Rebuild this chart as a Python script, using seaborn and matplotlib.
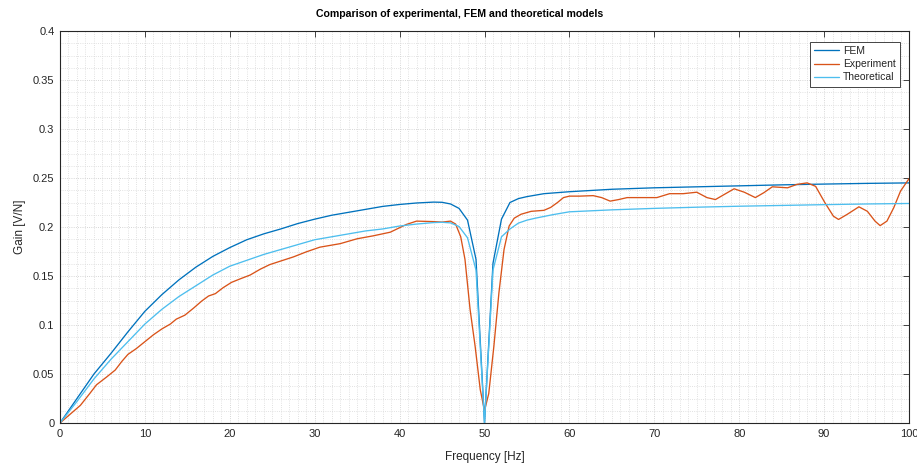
import numpy as np
import pandas as pd
import matplotlib
matplotlib.use("Agg")
import matplotlib.pyplot as plt
from matplotlib.ticker import MultipleLocator
import seaborn as sns

# FEM model response
fem_freq = [0, 2, 4, 6, 8, 10, 12, 14, 16, 18, 20, 22, 24, 26, 28, 30, 32, 34, 36, 38,
            40, 42, 44, 45, 46, 47, 48, 49, 50, 51, 52, 53, 54, 55, 57, 60, 65, 70,
            75, 80, 85, 90, 95, 100]
fem_gain = [0.0, 0.025, 0.050, 0.071, 0.093, 0.114, 0.131, 0.146, 0.159, 0.170, 0.179,
            0.187, 0.193, 0.198, 0.2035, 0.208, 0.212, 0.215, 0.218, 0.221, 0.223, 0.2245,
            0.2254, 0.2252, 0.2235, 0.219, 0.207, 0.167, 0.0, 0.163, 0.208, 0.225, 0.229,
            0.231, 0.234, 0.236, 0.2385, 0.240, 0.241, 0.242, 0.243, 0.2438, 0.2445, 0.245]

# Measured response
exp_freq = [0, 1.2, 2.4, 3.5, 4.3, 5.5, 6.5, 7.3, 8.0, 9.0, 10.0, 11.0, 12.0, 13.0, 13.7,
            14.7, 15.7, 16.7, 17.5, 18.3, 19.2, 20.2, 21.2, 22.4, 23.6, 24.7, 25.9, 27.5,
            29.0, 30.6, 33.0, 35.0, 36.9, 38.9, 40.8, 42.0, 44.0, 45.0, 46.0, 46.6, 47.2,
            47.7, 48.3, 48.9, 49.5, 50.0, 50.5, 51.1, 51.7, 52.3, 52.9, 53.5, 54.3, 55.5,
            57.0, 57.8, 58.6, 59.3, 60.0, 61.2, 62.8, 63.8, 64.8, 65.8, 66.8, 68.7, 70.3,
            71.8, 73.4, 75.0, 76.2, 77.2, 78.2, 79.4, 80.6, 81.9, 82.9, 83.9, 85.7, 86.8,
            88.0, 89.0, 90.1, 91.1, 91.7, 92.7, 94.1, 95.1, 96.0, 96.6, 97.4, 98.2, 99.0,
            100.0]
exp_gain = [0.0, 0.009, 0.018, 0.030, 0.039, 0.047, 0.054, 0.063, 0.070, 0.076, 0.083,
            0.090, 0.096, 0.101, 0.106, 0.110, 0.117, 0.1245, 0.1296, 0.132, 0.138, 0.1435,
            0.147, 0.151, 0.157, 0.1616, 0.165, 0.1695, 0.1746, 0.1794, 0.183, 0.188, 0.191,
            0.1947, 0.2026, 0.206, 0.2055, 0.205, 0.206, 0.203, 0.190, 0.167, 0.116, 0.078,
            0.034, 0.0126, 0.030, 0.078, 0.133, 0.177, 0.201, 0.209, 0.213, 0.216, 0.217,
            0.220, 0.225, 0.230, 0.2315, 0.2315, 0.232, 0.230, 0.2264, 0.228, 0.230, 0.230,
            0.230, 0.234, 0.234, 0.2355, 0.230, 0.228, 0.233, 0.239, 0.2355, 0.230, 0.235,
            0.241, 0.240, 0.2435, 0.245, 0.2415, 0.2247, 0.211, 0.2077, 0.2128, 0.2206,
            0.216, 0.206, 0.2014, 0.206, 0.2196, 0.2366, 0.2493]

# Analytical model response
th_freq = [0, 2, 4, 6, 8, 10, 12, 14, 16, 18, 20, 22, 24, 26, 28, 30, 32, 34, 36, 38,
           40, 42, 44, 45, 46, 47, 48, 49, 50, 51, 52, 53, 54, 55, 56, 58, 60, 65, 70,
           75, 80, 85, 90, 95, 100]
th_gain = [0.0, 0.022, 0.045, 0.065, 0.083, 0.101, 0.116, 0.129, 0.140, 0.151, 0.160,
           0.166, 0.172, 0.177, 0.182, 0.187, 0.190, 0.193, 0.196, 0.198, 0.201, 0.203,
           0.2045, 0.2048, 0.2042, 0.2005, 0.189, 0.156, 0.0, 0.156, 0.190, 0.198, 0.204,
           0.207, 0.209, 0.2125, 0.2155, 0.2175, 0.219, 0.2202, 0.2212, 0.222, 0.2228,
           0.2235, 0.224]

series = ["FEM", "Experiment", "Theoretical"]
colors = {"FEM": "#0072BD", "Experiment": "#D95319", "Theoretical": "#4DBEEE"}

df = pd.concat([
    pd.DataFrame({"freq": fem_freq, "gain": fem_gain, "model": "FEM"}),
    pd.DataFrame({"freq": exp_freq, "gain": exp_gain, "model": "Experiment"}),
    pd.DataFrame({"freq": th_freq, "gain": th_gain, "model": "Theoretical"}),
], ignore_index=True)

sns.set_theme(style="white")
plt.rcParams["font.family"] = ["Liberation Sans", "DejaVu Sans"]
text_col = "#262626"

fig = plt.figure(figsize=(9.17, 4.66), dpi=100)
ax = fig.add_axes([60 / 917, 43 / 466, 849 / 917, 392 / 466])

sns.lineplot(data=df, x="freq", y="gain", hue="model", hue_order=series,
             palette=colors, estimator=None, sort=False, units="model",
             linewidth=0.95, ax=ax)

ax.set_xlim(0, 100)
ax.set_ylim(0, 0.4)
ax.xaxis.set_major_locator(MultipleLocator(10))
ax.xaxis.set_minor_locator(MultipleLocator(1))
ax.yaxis.set_minor_locator(MultipleLocator(0.0125))
ax.set_yticks(np.arange(0, 0.401, 0.05))
ax.set_yticklabels(["0", "0.05", "0.1", "0.15", "0.2", "0.25", "0.3", "0.35", "0.4"])

ax.grid(which="major", linestyle=":", color="#c8c8c8", linewidth=0.6)
ax.grid(which="minor", linestyle=":", color="#d8d8d8", linewidth=0.6)
ax.set_axisbelow(True)

ax.tick_params(which="major", direction="in", length=4.5, width=0.6, color=text_col,
               top=True, right=True, labelsize=8, labelcolor=text_col, pad=4)
ax.tick_params(which="minor", length=0, top=True, right=True)
for sp in ax.spines.values():
    sp.set_color(text_col)
    sp.set_linewidth(0.8)

ax.set_xlabel("Frequency [Hz]", fontsize=8.5, color=text_col, labelpad=9)
ax.set_ylabel("Gain [V/N]", fontsize=8.5, color=text_col, labelpad=5)
ax.set_title("Comparison of experimental, FEM and theoretical models",
             fontsize=7.6, fontweight="bold", color="#000000", pad=10, x=0.4706)

handles, labels = ax.get_legend_handles_labels()
leg = ax.legend(handles, labels, loc="upper right", bbox_to_anchor=(0.9895, 0.972),
                borderaxespad=0, fontsize=7.5, frameon=True, fancybox=False,
                framealpha=1, edgecolor=text_col, handlelength=2.4,
                handletextpad=0.4, borderpad=0.4, labelspacing=0.3)
leg.get_frame().set_linewidth(0.6)
for t in leg.get_texts():
    t.set_color(text_col)

fig.savefig("out.png", dpi=100, facecolor="white")
